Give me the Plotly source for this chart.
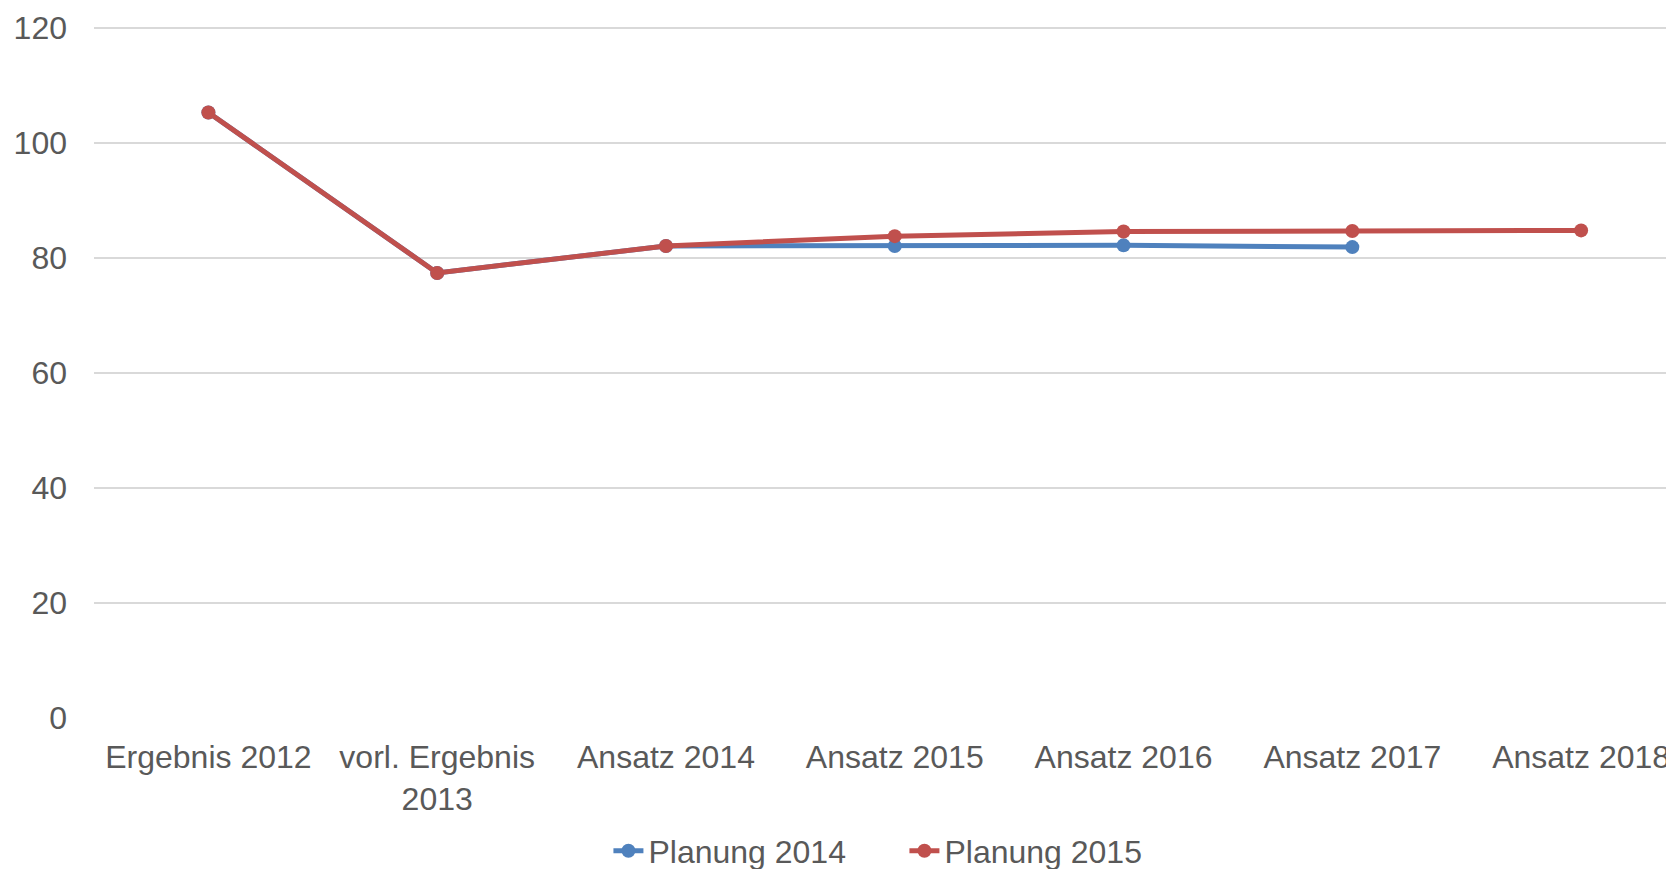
import plotly.graph_objects as go

categories = ["Ergebnis 2012", "vorl. Ergebnis<br>2013", "Ansatz 2014", "Ansatz 2015",
              "Ansatz 2016", "Ansatz 2017", "Ansatz 2018"]
planung_2014 = [105.3, 77.4, 82.1, 82.1, 82.2, 81.9, None]
planung_2015 = [105.3, 77.4, 82.1, 83.8, 84.6, 84.7, 84.8]
y_ticks = [0, 20, 40, 60, 80, 100, 120]

BLUE = "#4F81BD"
RED = "#C0504D"
TXT = "#595959"
FONT = "Liberation Sans, Arial, sans-serif"

# page body has an 8px default margin; figure sized to fit the 1674x869 window
W, H = 1666, 861

fig = go.Figure()
fig.add_trace(go.Scatter(x=categories, y=planung_2014, name="Planung 2014", mode="lines+markers",
                         line=dict(color=BLUE, width=5), marker=dict(size=14, color=BLUE)))
fig.add_trace(go.Scatter(x=categories, y=planung_2015, name="Planung 2015", mode="lines+markers",
                         line=dict(color=RED, width=5), marker=dict(size=14, color=RED)))

fig.update_layout(
    width=W, height=H,
    margin=dict(l=86, r=0, t=18, b=151, autoexpand=False),
    paper_bgcolor="white", plot_bgcolor="white",
    font=dict(family=FONT, size=32, color=TXT),
    showlegend=True,
    legend=dict(orientation="h", xref="container", yref="container",
                x=0.3604, y=1 - 843 / H, xanchor="left", yanchor="middle",
                font=dict(size=32, color=TXT), itemwidth=30,
                entrywidth=251, entrywidthmode="pixels"),
)
fig.update_xaxes(type="category", range=[-0.5, 6.406], showgrid=False, zeroline=False,
                 showline=False, tickangle=0, ticklabelstandoff=17,
                 tickfont=dict(size=32, color=TXT))
fig.update_yaxes(range=[0, 120.35], tickvals=y_ticks, showgrid=True, gridcolor="#D9D9D9",
                 gridwidth=1.5, zeroline=False, showline=False, ticklabelstandoff=26,
                 tickfont=dict(size=32, color=TXT))

fig.write_html("out.html")
